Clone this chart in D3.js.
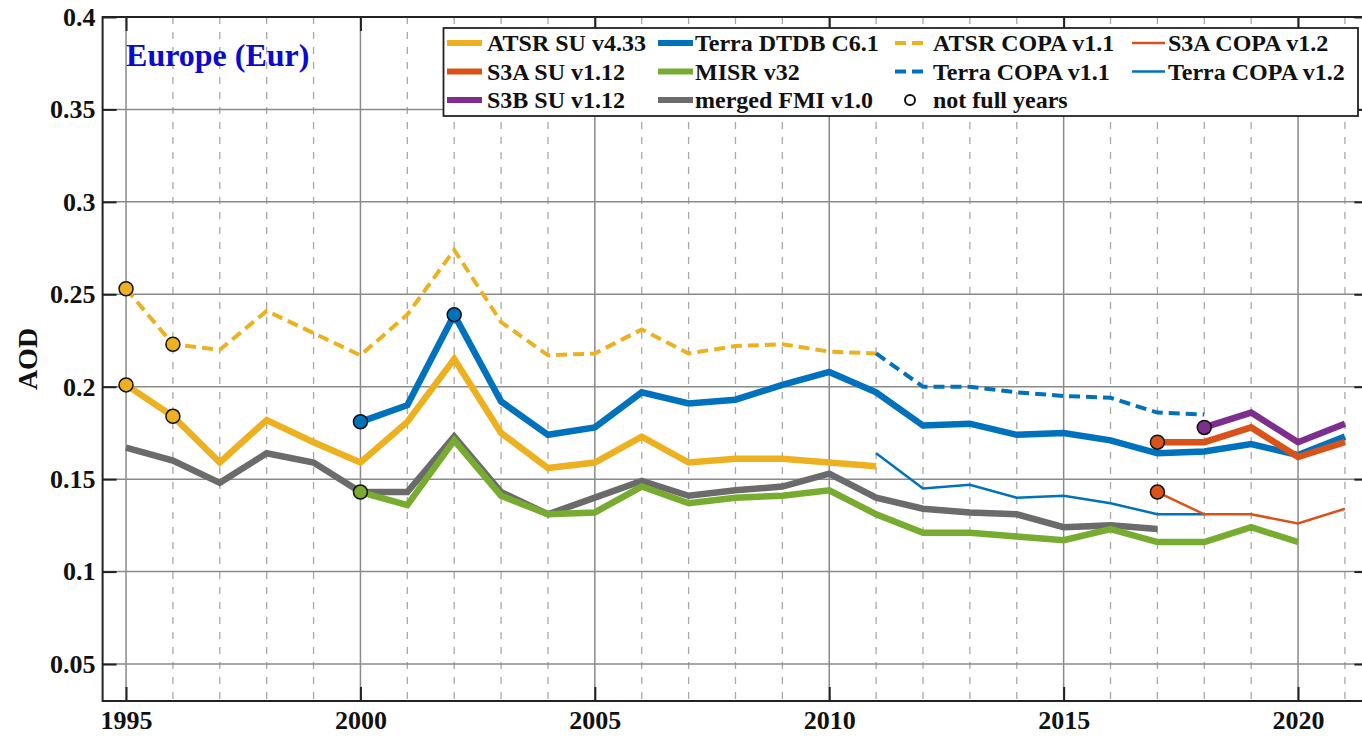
<!DOCTYPE html>
<html>
<head>
<meta charset="utf-8">
<script src="https://cdn.jsdelivr.net/npm/d3@7"></script>
<style>
  body { margin: 0; background: #fff; }
  svg { display: block; }
  text { font-family: "Liberation Serif", "Times New Roman", serif; font-weight: bold; }
</style>
</head>
<body>
<svg id="chart" width="1362" height="740"></svg>
<script>
// values (annual mean AOD, Europe)
const atsrSuYears = d3.range(1995, 2012);
const atsrSu = [0.201, 0.184, 0.159, 0.182, 0.170, 0.159, 0.181, 0.215, 0.175, 0.156, 0.159, 0.173, 0.159, 0.161, 0.161, 0.159, 0.157];

const atsrCopaYears = d3.range(1995, 2012);
const atsrCopa = [0.253, 0.223, 0.220, 0.241, 0.229, 0.217, 0.239, 0.274, 0.235, 0.217, 0.218, 0.231, 0.218, 0.222, 0.223, 0.219, 0.218];

const terraDtdbYears = d3.range(2000, 2022);
const terraDtdb = [0.181, 0.190, 0.239, 0.192, 0.174, 0.178, 0.197, 0.191, 0.193, 0.201, 0.208, 0.197, 0.179, 0.180, 0.174, 0.175, 0.171, 0.164, 0.165, 0.169, 0.163, 0.173];

const terraCopa11Years = d3.range(2011, 2019);
const terraCopa11 = [0.218, 0.200, 0.200, 0.197, 0.195, 0.194, 0.186, 0.185];

const terraCopa12Years = d3.range(2011, 2019);
const terraCopa12 = [0.164, 0.145, 0.147, 0.140, 0.141, 0.137, 0.131, 0.131];

const misrYears = d3.range(2000, 2021);
const misr = [0.143, 0.136, 0.171, 0.141, 0.131, 0.132, 0.146, 0.137, 0.140, 0.141, 0.144, 0.131, 0.121, 0.121, 0.119, 0.117, 0.123, 0.116, 0.116, 0.124, 0.116];

const mergedYears = d3.range(1995, 2018);
const merged = [0.167, 0.160, 0.148, 0.164, 0.159, 0.143, 0.143, 0.173, 0.143, 0.131, 0.140, 0.149, 0.141, 0.144, 0.146, 0.153, 0.140, 0.134, 0.132, 0.131, 0.124, 0.125, 0.123];

const s3aSuYears = d3.range(2017, 2022);
const s3aSu = [0.170, 0.170, 0.178, 0.162, 0.170];

const s3aCopaYears = d3.range(2017, 2022);
const s3aCopa = [0.143, 0.131, 0.131, 0.126, 0.134];

const s3bSuYears = d3.range(2018, 2022);
const s3bSu = [0.178, 0.186, 0.170, 0.180];

// years that are not full years (marked with circles)
const partialYears = {
  atsrSu: [1995, 1996],
  atsrCopa: [1995, 1996],
  terraDtdb: [2000, 2002],
  misr: [2000],
  s3aSu: [2017],
  s3aCopa: [2017],
  s3bSu: [2018]
};

const yTicks = [0.05, 0.1, 0.15, 0.2, 0.25, 0.3, 0.35, 0.4];
const yTickLabels = ['0.05', '0.1', '0.15', '0.2', '0.25', '0.3', '0.35', '0.4'];
const xTicks = [1995, 2000, 2005, 2010, 2015, 2020];
const xTickLabels = ['1995', '2000', '2005', '2010', '2015', '2020'];
const minorYears = d3.range(1995, 2022).filter(d => d % 5 !== 0);

const colors = {
  yellow: '#EDB120', blue: '#0072BD', orange: '#D95319',
  purple: '#7E2F8E', green: '#77AC30', gray: '#6b6b6b'
};

const series = [
  { key: 'atsrCopa', name: 'ATSR COPA v1.1', years: atsrCopaYears, values: atsrCopa, color: colors.yellow, width: 4, dash: '11,6' },
  { key: 'atsrSu', name: 'ATSR SU v4.33', years: atsrSuYears, values: atsrSu, color: colors.yellow, width: 6.5 },
  { key: 'terraCopa11', name: 'Terra COPA v1.1', years: terraCopa11Years, values: terraCopa11, color: colors.blue, width: 4, dash: '11,6' },
  { key: 'terraCopa12', name: 'Terra COPA v1.2', years: terraCopa12Years, values: terraCopa12, color: colors.blue, width: 2.5 },
  { key: 'terraDtdb', name: 'Terra DTDB C6.1', years: terraDtdbYears, values: terraDtdb, color: colors.blue, width: 6.5 },
  { key: 'merged', name: 'merged FMI v1.0', years: mergedYears, values: merged, color: colors.gray, width: 6.5 },
  { key: 'misr', name: 'MISR v32', years: misrYears, values: misr, color: colors.green, width: 6.5 },
  { key: 's3aCopa', name: 'S3A COPA v1.2', years: s3aCopaYears, values: s3aCopa, color: colors.orange, width: 2.5 },
  { key: 's3aSu', name: 'S3A SU v1.12', years: s3aSuYears, values: s3aSu, color: colors.orange, width: 6.5 },
  { key: 's3bSu', name: 'S3B SU v1.12', years: s3bSuYears, values: s3bSu, color: colors.purple, width: 6.5 }
];

const margin = { top: 17, left: 102.6 };
const plotW = 27 * 46.88;
const plotH = 684;
const serif = '"Liberation Serif", "Times New Roman", serif';

const x = d3.scaleLinear().domain([1994.5, 2021.5]).range([margin.left, margin.left + plotW]);
const y = d3.scaleLinear().domain([0.03, 0.4]).range([margin.top + plotH, margin.top]);

const svg = d3.select('#chart');

// grid
svg.append('g').selectAll('line')
  .data(minorYears).enter().append('line')
  .attr('x1', d => x(d)).attr('x2', d => x(d))
  .attr('y1', y(0.4)).attr('y2', y(0.03))
  .attr('stroke', '#a8a8a8').attr('stroke-width', 1.3).attr('stroke-dasharray', '7,8');

svg.append('g').selectAll('line')
  .data(xTicks).enter().append('line')
  .attr('x1', d => x(d)).attr('x2', d => x(d))
  .attr('y1', y(0.4)).attr('y2', y(0.03))
  .attr('stroke', '#8a8a8a').attr('stroke-width', 1.5);

svg.append('g').selectAll('line')
  .data(yTicks.slice(0, -1)).enter().append('line')
  .attr('x1', x(1994.5)).attr('x2', x(2021.5))
  .attr('y1', d => y(d)).attr('y2', d => y(d))
  .attr('stroke', '#8a8a8a').attr('stroke-width', 1.5);

// box
svg.append('rect')
  .attr('x', x(1994.5)).attr('y', y(0.4))
  .attr('width', plotW).attr('height', plotH)
  .attr('fill', 'none').attr('stroke', '#222').attr('stroke-width', 2);

// axes with inward ticks
const yAxis = svg.append('g')
  .attr('transform', `translate(${x(1994.5)},0)`)
  .attr('font-family', serif)
  .call(d3.axisLeft(y).tickValues(yTicks).tickFormat((d, i) => yTickLabels[i]).tickSize(-14).tickSizeOuter(0).tickPadding(7));
yAxis.attr('font-family', serif);
yAxis.select('.domain').remove();
yAxis.selectAll('line').attr('stroke', '#222').attr('stroke-width', 2);
yAxis.selectAll('text').attr('font-size', 26).attr('fill', '#111')
  .style('font-family', serif).style('font-weight', 'bold');

const yAxisR = svg.append('g')
  .attr('transform', `translate(${x(2021.5)},0)`)
  .call(d3.axisRight(y).tickValues(yTicks).tickFormat('').tickSize(-14).tickSizeOuter(0));
yAxisR.select('.domain').remove();
yAxisR.selectAll('line').attr('stroke', '#222').attr('stroke-width', 2);

const xAxis = svg.append('g')
  .attr('transform', `translate(0,${y(0.03)})`)
  .call(d3.axisBottom(x).tickValues(xTicks).tickFormat((d, i) => xTickLabels[i]).tickSize(-14).tickSizeOuter(0).tickPadding(10));
xAxis.attr('font-family', serif);
xAxis.select('.domain').remove();
xAxis.selectAll('line').attr('stroke', '#222').attr('stroke-width', 2);
xAxis.selectAll('text').attr('font-size', 26).attr('fill', '#111')
  .style('font-family', serif).style('font-weight', 'bold');

const xAxisT = svg.append('g')
  .attr('transform', `translate(0,${y(0.4)})`)
  .call(d3.axisTop(x).tickValues(xTicks).tickFormat('').tickSize(-14).tickSizeOuter(0));
xAxisT.select('.domain').remove();
xAxisT.selectAll('line').attr('stroke', '#222').attr('stroke-width', 2);

// y label
svg.append('text')
  .attr('transform', `translate(37,${y(0.215)}) rotate(-90)`)
  .attr('text-anchor', 'middle')
  .attr('font-size', 28).attr('fill', '#111')
  .text('AOD');

// lines
const line = d3.line().x(d => x(d[0])).y(d => y(d[1]));
series.forEach(s => {
  const pts = s.years.map((yr, i) => [yr, s.values[i]]);
  svg.append('path')
    .datum(pts)
    .attr('d', line)
    .attr('fill', 'none')
    .attr('stroke', s.color)
    .attr('stroke-width', s.width)
    .attr('stroke-linejoin', 'miter')
    .attr('stroke-dasharray', s.dash || null);
});

// not-full-year markers
series.forEach(s => {
  const yrs = partialYears[s.key] || [];
  svg.append('g').selectAll('circle')
    .data(yrs).enter().append('circle')
    .attr('cx', d => x(d))
    .attr('cy', d => y(s.values[s.years.indexOf(d)]))
    .attr('r', 7)
    .attr('fill', s.color)
    .attr('stroke', '#111')
    .attr('stroke-width', 1.5);
});

// title
svg.append('text')
  .attr('x', x(1995)).attr('y', 66)
  .attr('font-size', 32).attr('fill', '#0a0ad0')
  .text('Europe (Eur)');

// legend
const legendCols = [
  { x: 447, len: 35, tx: 487, items: ['atsrSu', 's3aSu', 's3bSu'] },
  { x: 658, len: 35, tx: 695, items: ['terraDtdb', 'misr', 'merged'] },
  { x: 895, len: 30, tx: 933, items: ['atsrCopa', 'terraCopa11', 'partial'] },
  { x: 1132, len: 33, tx: 1168, items: ['s3aCopa', 'terraCopa12'] }
];
const legendRows = [43, 71.5, 100];

const lg = svg.append('g');
lg.append('rect')
  .attr('x', 443.5).attr('y', 28)
  .attr('width', 1358 - 443.5).attr('height', 88)
  .attr('fill', '#fff').attr('stroke', '#222').attr('stroke-width', 1.8);

legendCols.forEach(col => {
  col.items.forEach((key, r) => {
    const ry = legendRows[r];
    if (key === 'partial') {
      lg.append('circle')
        .attr('cx', col.x + col.len / 2).attr('cy', ry).attr('r', 5)
        .attr('fill', 'none').attr('stroke', '#111').attr('stroke-width', 2);
      lg.append('text').attr('x', col.tx).attr('y', ry + 8)
        .attr('font-size', 24).attr('fill', '#111').text('not full years');
      return;
    }
    const s = series.find(d => d.key === key);
    lg.append('line')
      .attr('x1', col.x).attr('x2', col.x + col.len)
      .attr('y1', ry).attr('y2', ry)
      .attr('stroke', s.color)
      .attr('stroke-width', s.width === 6.5 ? 6 : s.width)
      .attr('stroke-dasharray', s.dash ? '11,6' : null);
    lg.append('text').attr('x', col.tx).attr('y', ry + 8)
      .attr('font-size', 24).attr('fill', '#111').text(s.name);
  });
});
</script>
</body>
</html>
